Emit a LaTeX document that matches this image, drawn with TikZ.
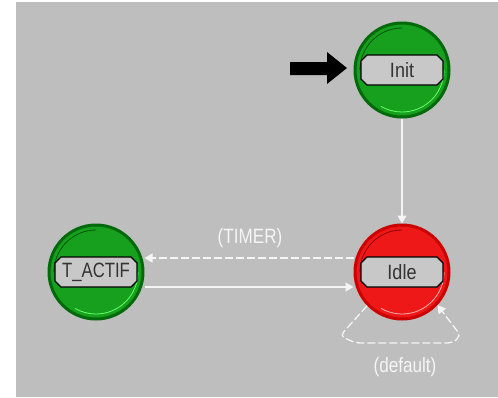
\documentclass[tikz,border=0pt]{standalone}
\usepackage{fontspec}
\setmainfont{Liberation Sans}
\usetikzlibrary{shapes.misc,arrows.meta}
\definecolor{bg}{RGB}{190,190,190}
\definecolor{stgreen}{RGB}{22,160,30}
\definecolor{stgreendk}{RGB}{0,105,10}
\definecolor{stred}{RGB}{238,24,24}
\definecolor{streddk}{RGB}{205,0,0}
\definecolor{boxgray}{RGB}{200,200,200}
\definecolor{wline}{RGB}{245,245,245}
\tikzset{
  statecirc/.style={circle, minimum size=94pt, inner sep=0pt, line width=3pt},
  greenstate/.style={statecirc, fill=stgreen, draw=stgreendk},
  redstate/.style={statecirc, fill=stred, draw=streddk},
  namebox/.style={chamfered rectangle, chamfered rectangle xsep=3pt, chamfered rectangle ysep=3pt,
     minimum width=82pt, minimum height=30pt, inner sep=0pt, fill=boxgray, draw=black, line width=1.2pt,
     font=\fontsize{18}{20}\selectfont, text=black!80},
  trans/.style={draw=wline, line width=1.3pt, -{Triangle[width=9pt,length=8pt]}},
  transdash/.style={trans, dash pattern=on 8pt off 3pt},
  tlabel/.style={text=wline, font=\fontsize{18}{20}\selectfont, inner sep=0pt}
}
\begin{document}
\begin{tikzpicture}[x=1pt,y=-1pt]
\useasboundingbox (0,0) rectangle (498,397);
\fill[bg] (16,2) rectangle (498,397);
% states
\node[greenstate] (init) at (402,70) {};
\node[redstate] (idle) at (402,272) {};
\node[greenstate] (tactif) at (96,272) {};
% inner rings
\foreach \c in {init,tactif}{
  \draw[stgreendk!80!black, line width=0.8pt] ([shift={(-42pt,0)}]\c.center) arc[start angle=180,end angle=90,radius=42pt];
  \draw[green!60!white, line width=0.8pt] ([shift={(42pt,0)}]\c.center) arc[start angle=0,end angle=-120,radius=42pt];
}
\draw[streddk!70!black, line width=0.8pt] ([shift={(-42pt,0)}]idle.center) arc[start angle=180,end angle=90,radius=42pt];
\draw[red!30!white, line width=0.8pt] ([shift={(42pt,0)}]idle.center) arc[start angle=0,end angle=-120,radius=42pt];
% name boxes
\node[namebox] (initbox) at (init.center) {\scalebox{1}[1.15]{Init}};
\node[namebox] (idlebox) at (idle.center) {\scalebox{1}[1.15]{Idle}};
\node[namebox] (tactifbox) at (tactif.center) {\scalebox{0.93}[1.15]{T\_ACTIF}};
% initial arrow
\fill[black] (290,62) -- (327,62) -- (327,52) -- (347,68) -- (327,84) -- (327,75) -- (290,75) -- cycle;
% transitions
\draw[trans] (init.south) -- (idle.north);
\draw[transdash] (idle.west |- 0,258) -- (tactif.east |- 0,258);
\draw[trans] (tactif.east |- 0,287) -- (idle.west |- 0,287);
\node[tlabel] (timerlbl) at (250,238) {\scalebox{0.95}[1.15]{(TIMER)}};
% self loop
\coordinate (la) at (340,336);
\coordinate (lb) at (356,343);
\coordinate (lc) at (452,343);
\coordinate (ld) at (461,336);
\draw[transdash, rounded corners=5pt] (idle.224) -- (la) -- (lb) -- (lc) -- (ld) -- (idle.317);
\node[tlabel] (deflbl) at (405,367) {\scalebox{0.95}[1.15]{(default)}};
\end{tikzpicture}
\end{document}
